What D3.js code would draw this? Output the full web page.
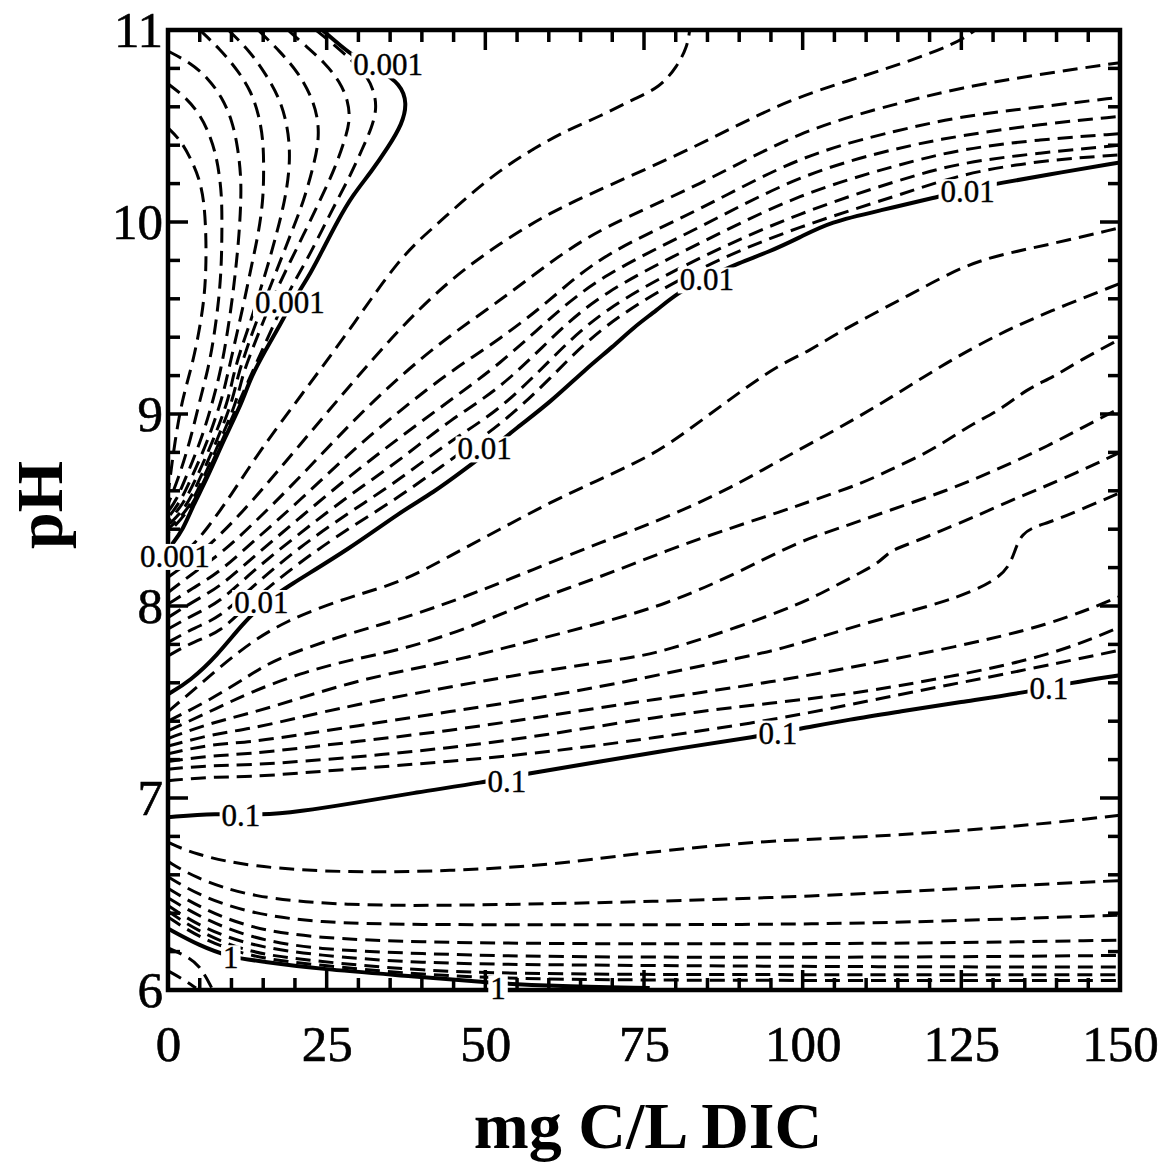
<!DOCTYPE html>
<html><head><meta charset="utf-8">
<script src="https://cdn.jsdelivr.net/npm/d3@7"></script>
<style>body{margin:0;background:#fff}svg{display:block}</style>
</head><body>
<svg id="chart" width="1173" height="1166"></svg>
<script>
// ---- axis ticks ----
const xTicks = [0, 25, 50, 75, 100, 125, 150];
const yTicks = [6, 7, 8, 9, 10, 11];

// ---- contour lines: [DIC mg C/L, pH] ----
// top-left family (below 0.001)
const T_i = [[0,10.49],[1.9,10.43],[3.6,10.33],[4.9,10.23],[5.7,10.11],[6.0,9.93],[6.0,9.76],[5.7,9.59],[4.7,9.39],[3.6,9.23],[2.2,9.07],[1.1,8.86],[0.3,8.66],[0,8.58]];
const T_h = [[0,10.72],[2.4,10.66],[4.6,10.58],[6.3,10.48],[7.6,10.35],[8.2,10.22],[8.5,10.11],[8.5,9.93],[8.4,9.76],[8.0,9.59],[7.2,9.39],[6.3,9.23],[5.0,9.07],[3.5,8.86],[1.6,8.66],[0,8.53]];
const T_g = [[0,10.89],[3.5,10.83],[6.3,10.75],[8.5,10.65],[10.1,10.53],[11.0,10.39],[11.5,10.24],[11.5,10.11],[11.2,9.93],[10.7,9.76],[10.1,9.59],[9.3,9.41],[8.4,9.24],[7.1,9.07],[5.2,8.86],[2.7,8.66],[1.3,8.55],[0,8.49]];
const T_f = [[5.0,11],[8.2,10.90],[11.0,10.79],[13.1,10.68],[14.3,10.56],[15.0,10.43],[15.1,10.28],[15.0,10.11],[14.2,9.93],[13.2,9.78],[12.1,9.60],[11.0,9.44],[9.9,9.28],[9.0,9.15],[8.4,9.07],[6.3,8.86],[3.6,8.66],[1.9,8.54],[0,8.46]];
const T_e = [[9.5,11],[12.9,10.89],[15.4,10.77],[17.5,10.65],[18.7,10.52],[19.2,10.39],[19.1,10.26],[18.4,10.11],[17.2,9.95],[15.8,9.78],[14.2,9.61],[12.8,9.46],[11.3,9.32],[10.2,9.19],[9.5,9.07],[7.1,8.86],[4.4,8.66],[2.4,8.53],[0,8.44]];
const T_d = [[14.2,11],[17.6,10.89],[20.5,10.78],[22.5,10.66],[23.6,10.55],[23.8,10.43],[23.0,10.30],[21.4,10.11],[19.5,9.95],[17.5,9.78],[15.6,9.62],[13.9,9.48],[12.3,9.33],[11.0,9.20],[10.2,9.07],[7.7,8.86],[5.0,8.66],[2.8,8.51],[0,8.42]];
const T_c = [[18.9,11],[21.6,10.92],[24.7,10.83],[27.1,10.73],[28.4,10.63],[28.7,10.53],[27.9,10.43],[26.2,10.27],[23.9,10.11],[21.6,9.95],[19.2,9.79],[17.0,9.64],[15.1,9.49],[13.2,9.33],[11.7,9.20],[10.9,9.07],[8.2,8.86],[5.5,8.66],[3.2,8.50],[0,8.40]];
const T_b = [[23.3,11],[26.3,10.92],[29.0,10.84],[31.2,10.77],[32.5,10.68],[32.9,10.59],[32.1,10.49],[30.6,10.38],[28.7,10.24],[26.6,10.11],[24.3,9.96],[21.7,9.79],[19.2,9.65],[17.0,9.49],[14.8,9.33],[12.9,9.19],[11.3,9.07],[8.5,8.86],[5.8,8.66],[3.5,8.50],[0,8.38]];
const C0001 = [[24.3,11],[27.1,10.92],[29.8,10.85],[33.4,10.79],[36.6,10.72],[37.7,10.62],[36.9,10.51],[34.7,10.39],[32.0,10.26],[29.1,10.14],[26.8,10.01],[24.3,9.85],[22.1,9.71],[19.5,9.58],[17.6,9.46],[15.3,9.33],[12.9,9.18],[11.8,9.07],[9.0,8.88],[6.1,8.66],[3.9,8.52],[2.4,8.40],[0.6,8.32]];
// between 0.001 and 0.01
const U1 = [[0,8.21],[3.5,8.30],[6.1,8.40],[9.8,8.57],[14.5,8.81],[20.8,9.09],[28.7,9.44],[36.6,9.82],[41.8,9.97],[47.1,10.13],[52.3,10.27],[57.5,10.38],[62.9,10.48],[68.1,10.55],[73.3,10.64],[77.5,10.70],[80.2,10.81],[81.8,10.91],[82.2,11]];
const U2 = [[0,8.15],[4.3,8.25],[8.2,8.37],[12.9,8.53],[20.8,8.84],[28.7,9.15],[36.6,9.45],[44.4,9.70],[52.3,9.89],[60.2,10.05],[68.1,10.17],[83.8,10.40],[96.4,10.62],[107.5,10.74],[115.3,10.82],[124.3,10.93],[127.2,11]];
const U3 = [[0,8.07],[4.3,8.18],[8.2,8.27],[12.9,8.41],[20.8,8.67],[28.7,8.95],[36.6,9.20],[44.4,9.41],[52.3,9.59],[60.2,9.79],[68.1,9.97],[83.8,10.19],[99.6,10.48],[115.3,10.62],[124.8,10.70],[137.4,10.77],[150,10.83]];
const U4 = [[0,8.01],[4.3,8.10],[8.2,8.18],[12.9,8.32],[20.8,8.55],[28.7,8.80],[36.6,9.02],[44.4,9.22],[52.3,9.39],[60.2,9.59],[68.1,9.83],[83.8,10.06],[99.6,10.35],[115.3,10.48],[124.8,10.55],[137.4,10.60],[150,10.65]];
const U5 = [[0,7.94],[4.3,8.03],[8.2,8.10],[12.9,8.24],[20.8,8.46],[28.7,8.68],[36.6,8.88],[44.4,9.07],[52.3,9.26],[60.2,9.50],[68.1,9.72],[83.8,9.97],[99.6,10.25],[115.3,10.39],[124.8,10.45],[137.4,10.51],[150,10.55]];
const U6 = [[0,7.88],[4.3,7.96],[8.2,8.02],[12.9,8.17],[20.8,8.38],[28.7,8.58],[36.6,8.76],[44.4,8.97],[52.3,9.13],[60.2,9.39],[68.1,9.63],[83.8,9.89],[99.6,10.15],[115.3,10.30],[124.8,10.38],[137.4,10.43],[150,10.46]];
const U7 = [[0,7.81],[4.3,7.89],[8.2,7.94],[12.9,8.09],[20.8,8.31],[28.7,8.49],[36.6,8.66],[44.4,8.86],[52.3,9.02],[60.2,9.28],[68.1,9.54],[83.8,9.82],[99.6,10.05],[115.3,10.22],[124.8,10.31],[137.4,10.36],[150,10.40]];
const U8 = [[0,7.74],[4.3,7.82],[8.2,7.86],[12.9,8.02],[20.8,8.23],[28.7,8.41],[36.6,8.57],[44.4,8.76],[52.3,8.94],[60.2,9.18],[68.1,9.46],[83.8,9.77],[99.6,9.98],[115.3,10.14],[124.8,10.25],[137.4,10.32],[150,10.35]];
const C001 = [[0,7.54],[3.5,7.61],[7.7,7.74],[11.8,7.91],[15.3,8.02],[18.7,8.10],[28.7,8.30],[36.6,8.49],[41.8,8.59],[47.1,8.72],[49.9,8.79],[55.0,8.93],[60.2,9.06],[66.0,9.24],[70.1,9.35],[73.3,9.45],[77.0,9.54],[80.2,9.63],[84.9,9.71],[90.1,9.79],[94.4,9.84],[99.6,9.92],[104.3,10.00],[112.2,10.06],[121.2,10.13],[126.0,10.17],[130.6,10.20],[141.0,10.26],[150,10.31]];
// between 0.01 and 0.1
const V1 = [[0,7.45],[5.0,7.59],[11.3,7.77],[18.1,7.92],[28.7,8.05],[36.6,8.12],[44.4,8.26],[52.3,8.40],[60.2,8.54],[68.1,8.66],[73.3,8.74],[78.6,8.83],[89.0,9.09],[96.4,9.26],[101.2,9.33],[104.8,9.41],[112.2,9.54],[118.5,9.65],[125.3,9.77],[131.1,9.83],[138.5,9.88],[150,9.97]];
const V2 = [[0,7.40],[6.6,7.51],[12.9,7.64],[17.2,7.73],[28.7,7.86],[36.6,7.93],[47.1,8.05],[57.5,8.19],[68.1,8.33],[78.6,8.46],[89.0,8.62],[96.4,8.76],[105.4,8.92],[114.2,9.09],[122.7,9.27],[131.1,9.42],[138.5,9.53],[150,9.68]];
const V3 = [[0,7.35],[6.6,7.45],[12.9,7.55],[20.8,7.65],[28.7,7.72],[36.6,7.77],[47.1,7.88],[57.5,8.03],[68.1,8.15],[78.6,8.29],[89.0,8.41],[96.4,8.49],[101.6,8.55],[109.5,8.64],[113.8,8.71],[118.5,8.78],[122.7,8.86],[126.8,8.95],[131.1,9.02],[135.3,9.13],[139.4,9.19],[143.7,9.28],[150,9.39]];
const V4 = [[0,7.31],[6.6,7.39],[12.9,7.44],[20.8,7.52],[28.7,7.60],[36.6,7.66],[47.1,7.73],[57.5,7.82],[68.1,7.91],[78.6,8.01],[89.0,8.16],[99.6,8.34],[105.4,8.40],[113.8,8.50],[122.7,8.60],[130.6,8.71],[138.5,8.83],[146.4,8.97],[150,9.03]];
const V5 = [[0,7.27],[6.6,7.33],[12.9,7.36],[20.8,7.42],[28.7,7.48],[44.4,7.58],[60.2,7.67],[73.3,7.73],[78.6,7.77],[89.0,7.88],[99.6,8.01],[104.3,8.09],[109.5,8.18],[112.2,8.23],[113.8,8.29],[117.4,8.33],[121.6,8.39],[126.8,8.46],[134.2,8.57],[141.0,8.66],[150,8.80]];
const V6 = [[0,7.23],[6.6,7.28],[12.9,7.29],[20.8,7.33],[28.7,7.37],[44.4,7.45],[60.2,7.53],[75.9,7.63],[87.0,7.71],[96.4,7.77],[109.5,7.91],[122.7,8.02],[130.6,8.13],[133.1,8.23],[134.2,8.39],[138.5,8.43],[143.7,8.50],[150,8.59]];
const V7 = [[0,7.19],[6.6,7.22],[12.9,7.23],[20.8,7.26],[28.7,7.29],[44.4,7.35],[60.2,7.43],[75.9,7.51],[96.4,7.61],[107.5,7.68],[123.2,7.78],[139.0,7.90],[150,8.05]];
const V8 = [[0,7.15],[6.6,7.17],[12.9,7.17],[28.7,7.21],[44.4,7.26],[60.2,7.33],[75.9,7.42],[96.4,7.50],[107.5,7.54],[123.2,7.63],[139.0,7.74],[150,7.89]];
const V9 = [[0,7.09],[6.6,7.11],[12.9,7.11],[20.8,7.13],[28.7,7.15],[44.4,7.19],[60.2,7.24],[75.9,7.31],[96.4,7.41],[115.3,7.54],[131.1,7.64],[150,7.77]];
const C01 = [[0,6.90],[7.4,6.92],[14.8,6.91],[20.8,6.93],[28.7,6.97],[39.2,7.03],[49.6,7.08],[57.0,7.13],[68.1,7.19],[80.7,7.26],[92.8,7.32],[99.6,7.36],[107.5,7.41],[115.3,7.45],[124.8,7.50],[135.3,7.55],[142.1,7.60],[150,7.64]];
// between 0.1 and 1
const W1 = [[0,6.77],[3.9,6.71],[12.9,6.64],[28.7,6.61],[44.4,6.62],[60.2,6.65],[73.3,6.71],[94.4,6.78],[107.5,6.79],[133.8,6.85],[150,6.91]];
const W2 = [[0,6.67],[3.9,6.59],[12.9,6.48],[28.7,6.44],[44.4,6.44],[60.2,6.45],[75.9,6.46],[94.4,6.48],[115.3,6.51],[131.1,6.54],[150,6.57]];
const W3 = [[0,6.59],[5.0,6.49],[12.9,6.40],[23.5,6.35],[39.2,6.34],[60.2,6.34],[91.7,6.34],[115.3,6.35],[150,6.39]];
const W4 = [[0,6.53],[5.0,6.43],[12.9,6.32],[23.5,6.27],[39.2,6.25],[60.2,6.24],[115.3,6.24],[150,6.26]];
const W5 = [[0,6.48],[5.0,6.38],[12.9,6.27],[23.5,6.21],[39.2,6.19],[60.2,6.17],[115.3,6.17],[150,6.18]];
const W6 = [[0,6.44],[5.0,6.33],[12.9,6.23],[23.5,6.18],[39.2,6.14],[60.2,6.13],[115.3,6.12],[150,6.12]];
const W7 = [[0,6.41],[5.0,6.30],[12.9,6.19],[23.5,6.15],[39.2,6.10],[60.2,6.08],[115.3,6.08],[150,6.08]];
const W8 = [[0,6.38],[5.0,6.27],[12.9,6.17],[23.5,6.13],[39.2,6.08],[60.2,6.05],[115.3,6.05],[150,6.05]];
const C1 = [[0,6.32],[5.0,6.23],[9.9,6.17],[14.5,6.15],[23.5,6.11],[39.2,6.07],[49.6,6.04],[60.2,6.02],[75.9,6.01]];
// above 1 (corner)
const K1 = [[0,6.22],[2.7,6.18],[5.0,6.13],[6.9,6.01]];
const K2 = [[0,6.10],[2.2,6.06],[4.4,6.01]];

const dashedLines = [T_i,T_h,T_g,T_f,T_e,T_d,T_c,T_b,U1,U2,U3,U4,U5,U6,U7,U8,V1,V2,V3,V4,V5,V6,V7,V8,V9,W1,W2,W3,W4,W5,W6,W7,W8,K1,K2];
const solidLines = [C0001, C001, C01, C1];

// contour labels
const labelText = ["0.001","0.001","0.001","0.01","0.01","0.01","0.01","0.1","0.1","0.1","0.1","1","1"];
const labelDIC  = [34.7, 19.2, 1.1, 14.7, 49.9, 84.9, 126.0, 11.5, 53.4, 96.1, 138.8, 9.9, 52.0];
const labelPH   = [10.82, 9.58, 8.26, 8.02, 8.82, 9.70, 10.16, 6.91, 7.09, 7.34, 7.57, 6.17, 6.01];

// ---- drawing ----
const svg = d3.select("#chart");
const L = 168, R = 1120, T = 30, B = 990;
const x = d3.scaleLinear().domain([0,150]).range([L,R]);
const y = d3.scaleLinear().domain([6,11]).range([B,T]);

svg.append("defs").append("clipPath").attr("id","clip")
  .append("rect").attr("x",L).attr("y",T).attr("width",R-L).attr("height",B-T);

const line = d3.line().x(d=>x(d[0])).y(d=>y(d[1])).curve(d3.curveBasis);
const g = svg.append("g").attr("clip-path","url(#clip)");
g.selectAll("path.dash").data(dashedLines).join("path").attr("class","dash")
  .attr("d",line).attr("fill","none").attr("stroke","#000")
  .attr("stroke-width",3).attr("stroke-dasharray","15,8");
g.selectAll("path.solid").data(solidLines).join("path").attr("class","solid")
  .attr("d",line).attr("fill","none").attr("stroke","#000")
  .attr("stroke-width",4);

// frame
svg.append("rect").attr("x",L).attr("y",T).attr("width",R-L).attr("height",B-T)
  .attr("fill","none").attr("stroke","#000").attr("stroke-width",4.5);

// ticks (inward, all four sides)
const minorX = d3.range(0,150.001,5);
const minorY = d3.range(6,11.001,0.2);
const tk = svg.append("g").attr("stroke","#000").attr("stroke-width",3.5);
minorX.forEach(v=>{
  const major = xTicks.some(t=>Math.abs(t-v)<1e-6);
  const len = major?20:12;
  tk.append("line").attr("x1",x(v)).attr("x2",x(v)).attr("y1",B).attr("y2",B-len);
  tk.append("line").attr("x1",x(v)).attr("x2",x(v)).attr("y1",T).attr("y2",T+len);
});
minorY.forEach(v=>{
  const major = yTicks.some(t=>Math.abs(t-v)<1e-6);
  const len = major?20:12;
  tk.append("line").attr("y1",y(v)).attr("y2",y(v)).attr("x1",L).attr("x2",L+len);
  tk.append("line").attr("y1",y(v)).attr("y2",y(v)).attr("x1",R).attr("x2",R-len);
});

// tick labels via axes
const fontTick = "'Liberation Serif','Times New Roman',serif";
const xAxis = svg.append("g").attr("transform",`translate(0,${B})`)
  .call(d3.axisBottom(x).tickValues(xTicks).tickSize(0).tickPadding(35).tickFormat(d3.format("d")));
const yAxis = svg.append("g").attr("transform",`translate(${L},0)`)
  .call(d3.axisLeft(y).tickValues(yTicks).tickSize(0).tickPadding(5).tickFormat(d3.format("d")));
[xAxis,yAxis].forEach(a=>{
  a.select(".domain").remove();
  a.selectAll("text").attr("font-family",fontTick).attr("font-size",51).attr("fill","#000")
    .attr("stroke","#000").attr("stroke-width",0.6);
});

// contour labels with white backing boxes
const lg = svg.append("g");
labelText.forEach((t,i)=>{
  const grp = lg.append("g");
  const bg = grp.append("rect").attr("fill","#fff");
  const tx = grp.append("text")
    .attr("x",x(labelDIC[i])).attr("y",y(labelPH[i]))
    .attr("dy","0.35em").attr("text-anchor","middle")
    .attr("font-family",fontTick).attr("font-size",31)
    .attr("fill","#000").attr("stroke","#000").attr("stroke-width",0.4).text(t);
  const bb = tx.node().getBBox();
  bg.attr("x",bb.x-2).attr("y",bb.y+5).attr("width",bb.width+4).attr("height",bb.height-9);
});

// axis titles
svg.append("text").attr("x",(L+R)/2+4).attr("y",1148).attr("text-anchor","middle")
  .attr("font-family",fontTick).attr("font-weight","bold").attr("font-size",66)
  .text("mg C/L DIC");
svg.append("text").attr("transform","translate(62,505) rotate(-90)").attr("text-anchor","middle")
  .attr("font-family",fontTick).attr("font-weight","bold").attr("font-size",66)
  .text("pH");
</script>
</body></html>
